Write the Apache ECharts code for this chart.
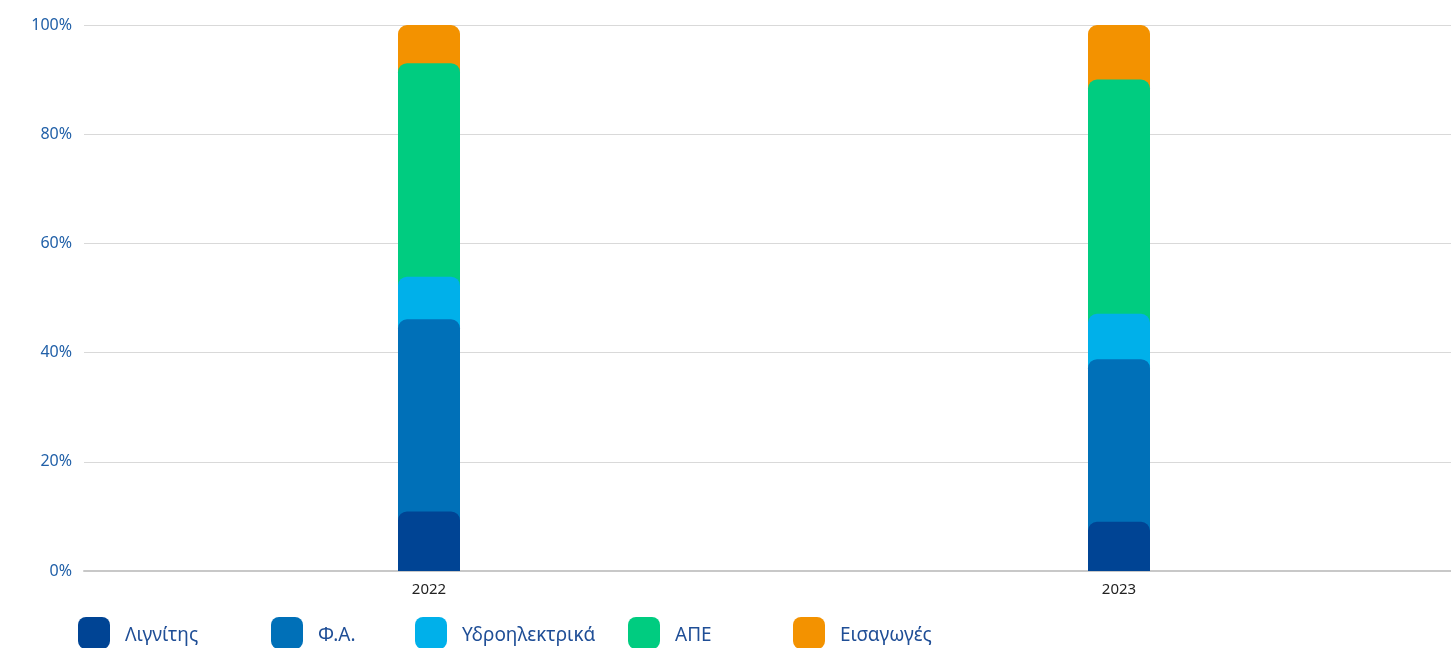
<!DOCTYPE html>
<html>
<head>
<meta charset="utf-8">
<script src="https://cdn.jsdelivr.net/npm/echarts@6/dist/echarts.min.js"></script>
<style>
  html, body { margin: 0; padding: 0; background: #fff; overflow: hidden; }
  #main { width: 1464px; height: 648px; }
</style>
</head>
<body>
<div id="main"></div>
<script>
var years = ['2022', '2023'];
var names = ['Λιγνίτης', 'Φ.Α.', 'Υδροηλεκτρικά', 'ΑΠΕ', 'Εισαγωγές'];
var lignite = [10.9, 9.0];
var gas = [35.2, 29.8];
var hydro = [7.8, 8.3];
var res = [39.1, 42.9];
var imports = [7.0, 10.0];
var colors = ['#004494', '#0070b8', '#00b0ea', '#00cc80', '#f39200'];
var legendLeft = [78, 271, 415, 628, 793];

var myChart = echarts.init(document.getElementById('main'));

// bars overlap from zero, each one drawn up to its running total
var parts = [lignite, gas, hydro, res, imports];
var running = [0, 0];
var series = [];
parts.forEach(function (vals, i) {
    running = running.map(function (r, j) { return r + vals[j]; });
    series.push({
        name: names[i],
        type: 'bar',
        barWidth: 62,
        barGap: '-100%',
        z: 10 - i,
        itemStyle: { color: colors[i], borderRadius: [9, 9, 0, 0] },
        data: running.slice()
    });
});
series.reverse();

var legends = names.map(function (n, i) {
    return {
        data: [n],
        left: legendLeft[i],
        top: 617,
        padding: 0,
        itemWidth: 32,
        itemHeight: 32,
        icon: 'roundRect',
        formatter: '{t|{name}}',
        textStyle: {
            color: '#1f4e96',
            fontSize: 19,
            fontFamily: 'Noto Sans',
            rich: {
                t: {
                    color: '#1f4e96',
                    fontSize: 19,
                    fontFamily: 'Noto Sans',
                    padding: [6, 0, 0, 10]
                }
            }
        }
    };
});

var option = {
    animation: false,
    legend: legends,
    grid: { left: 84, right: 0, top: 25, bottom: 77 },
    xAxis: {
        type: 'category',
        data: years,
        axisLine: { lineStyle: { color: '#c8c8c8', width: 2 } },
        axisTick: { show: false },
        axisLabel: { color: '#222', fontSize: 15, fontFamily: 'Noto Sans', margin: 11 }
    },
    yAxis: {
        type: 'value',
        min: 0,
        max: 100,
        interval: 20,
        axisLabel: {
            formatter: '{value}%',
            color: '#2160a8',
            fontSize: 16,
            fontFamily: 'Noto Sans',
            margin: 12
        },
        splitLine: { lineStyle: { color: '#d9d9d9', width: 1 } }
    },
    series: series
};

myChart.setOption(option);
</script>
</body>
</html>
